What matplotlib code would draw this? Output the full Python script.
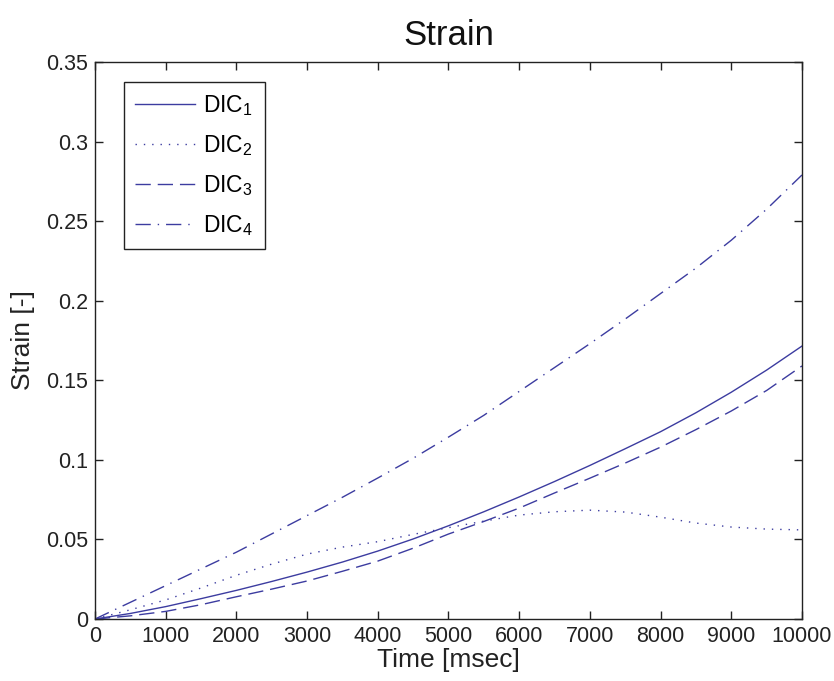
import matplotlib
matplotlib.use("Agg")
import matplotlib.pyplot as plt

# ── Data ──────────────────────────────────────────────────────────────────────
time_ms = [0, 500, 1000, 1500, 2000, 2500, 3000, 3500, 4000, 4500, 5000, 5500,
           6000, 6500, 7000, 7500, 8000, 8500, 9000, 9500, 10000]

dic1 = [0, 0.0035, 0.0078, 0.0128, 0.018, 0.0236, 0.0295, 0.0358, 0.0427, 0.0503, 0.0586,
        0.0674, 0.0767, 0.0864, 0.0965, 0.1070, 0.1177, 0.1296, 0.1425, 0.1564, 0.1715]
dic2 = [0, 0.0058, 0.012, 0.0195, 0.0275, 0.0345, 0.0408, 0.0452, 0.0486, 0.0532, 0.0574,
        0.0615, 0.0653, 0.0674, 0.0684, 0.0672, 0.0640, 0.0603, 0.0578, 0.0565, 0.056]
dic3 = [0, 0.0020, 0.0048, 0.0090, 0.014, 0.0188, 0.0239, 0.030, 0.0364, 0.0445, 0.0534,
        0.0613, 0.0697, 0.0792, 0.0885, 0.0980, 0.1080, 0.1190, 0.1307, 0.1436, 0.159]
dic4 = [0, 0.0105, 0.021, 0.0315, 0.042, 0.0535, 0.065, 0.0765, 0.0886, 0.101, 0.1143,
        0.128, 0.1430, 0.158, 0.1730, 0.1885, 0.2045, 0.2205, 0.238, 0.2575, 0.279]

labels = [r"DIC$_1$", r"DIC$_2$", r"DIC$_3$", r"DIC$_4$"]
x_ticks = [0, 1000, 2000, 3000, 4000, 5000, 6000, 7000, 8000, 9000, 10000]
y_ticks = [0, 0.05, 0.1, 0.15, 0.2, 0.25, 0.3, 0.35]
y_tick_labels = ["0", "0.05", "0.1", "0.15", "0.2", "0.25", "0.3", "0.35"]

LINE_COLOR = "#3c3ca0"
TEXT_COLOR = "#222222"

plt.rcParams["font.family"] = ["Liberation Sans", "DejaVu Sans"]
plt.rcParams["mathtext.fontset"] = "custom"
plt.rcParams["mathtext.rm"] = "Liberation Sans"
plt.rcParams["mathtext.it"] = "Liberation Sans"

fig = plt.figure(figsize=(8.34, 6.81), dpi=100)
ax = fig.add_axes([0.1139, 0.0910, 0.8477, 0.8180])

ax.plot(time_ms, dic1, color=LINE_COLOR, linewidth=1.0, linestyle="-", label=labels[0])
ax.plot(time_ms, dic2, color=LINE_COLOR, linewidth=1.0, linestyle=(0, (1, 5)), label=labels[1])
ax.plot(time_ms, dic3, color=LINE_COLOR, linewidth=1.0, linestyle=(0, (11, 5)), label=labels[2])
ax.plot(time_ms, dic4, color=LINE_COLOR, linewidth=1.0, linestyle=(0, (11, 5, 1, 5)), label=labels[3])

ax.set_xlim(0, 10000)
ax.set_ylim(0, 0.35)
ax.set_xticks(x_ticks)
ax.set_xticklabels([str(t) for t in x_ticks])
ax.set_yticks(y_ticks)
ax.set_yticklabels(y_tick_labels)
ax.tick_params(direction="in", top=True, right=True, length=6, labelsize=15.5,
               colors=TEXT_COLOR, width=1.0, pad=5)
for spine in ax.spines.values():
    spine.set_color(TEXT_COLOR)
    spine.set_linewidth(1.0)

ax.set_xlabel("Time [msec]", fontsize=19, color=TEXT_COLOR, labelpad=1)
ax.set_ylabel("Strain [-]", fontsize=19, color=TEXT_COLOR, labelpad=8)
ax.set_title("Strain", fontsize=25, color="#111111", pad=12)

leg = ax.legend(loc="upper left", bbox_to_anchor=(0.041, 0.964), borderaxespad=0,
                fontsize=16.5, fancybox=False, framealpha=1, edgecolor=TEXT_COLOR,
                handlelength=2.6, handletextpad=0.35, labelspacing=0.65, borderpad=0.5)
leg.get_frame().set_linewidth(1.0)

fig.savefig("out.png", dpi=100)
